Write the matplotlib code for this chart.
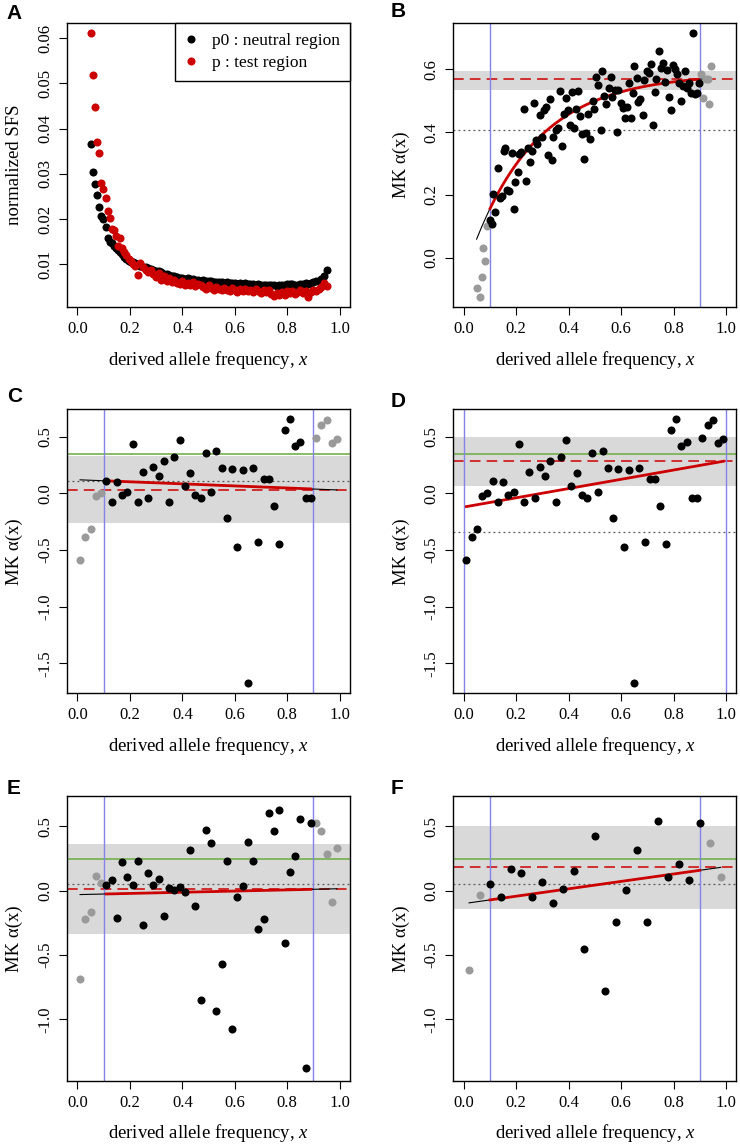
import numpy as np
import matplotlib
matplotlib.use("Agg")
import matplotlib.pyplot as plt

plt.rcParams['font.family'] = ['Liberation Serif', 'DejaVu Serif']
plt.rcParams['mathtext.fontset'] = 'custom'
plt.rcParams['mathtext.rm'] = 'Liberation Serif'
plt.rcParams['mathtext.it'] = 'Liberation Serif:italic'
plt.rcParams['axes.unicode_minus'] = False

# ---- panel A : normalized SFS ----
freq_A = [0.052, 0.060, 0.068, 0.076, 0.084, 0.091, 0.099, 0.107, 0.115, 0.123,
          0.131, 0.139, 0.147, 0.155, 0.163, 0.171, 0.179, 0.187, 0.195, 0.203,
          0.211,
          0.22, 0.23, 0.24, 0.25, 0.26, 0.27, 0.28, 0.29, 0.30, 0.31,
          0.32, 0.33, 0.34, 0.35, 0.36, 0.37, 0.38, 0.39, 0.40, 0.41,
          0.42, 0.43, 0.44, 0.45, 0.46, 0.47, 0.48, 0.49, 0.50, 0.51,
          0.52, 0.53, 0.54, 0.55, 0.56, 0.57, 0.58, 0.59, 0.60, 0.61,
          0.62, 0.63, 0.64, 0.65, 0.66, 0.67, 0.68, 0.69, 0.70, 0.71,
          0.72, 0.73, 0.74, 0.75, 0.76, 0.77, 0.78, 0.79, 0.80, 0.81,
          0.82, 0.83, 0.84, 0.85, 0.86, 0.87, 0.88, 0.89, 0.90, 0.91,
          0.92, 0.93, 0.94, 0.95]
sfs_neutral = [0.0366, 0.0304, 0.0278, 0.0253, 0.0226, 0.0206, 0.0199, 0.0182, 0.0157, 0.0150,
               0.0146, 0.0141, 0.0135, 0.0131, 0.0126, 0.0122, 0.0116, 0.0112, 0.0108, 0.0106,
               0.0104,
               0.0102, 0.0099, 0.0097, 0.0095, 0.0094, 0.0092, 0.0090, 0.0088, 0.0085, 0.0084,
               0.0082, 0.0079, 0.0078, 0.0077, 0.0075, 0.0074, 0.0072, 0.0070, 0.0069, 0.0068,
               0.0070, 0.0067, 0.0068, 0.0066, 0.0065, 0.0064, 0.0065, 0.0063, 0.0062, 0.0063,
               0.0061, 0.0061, 0.0060, 0.0061, 0.0059, 0.0060, 0.0058, 0.0059, 0.0058, 0.0057,
               0.0058, 0.0057, 0.0058, 0.0056, 0.0057, 0.0056, 0.0055, 0.0057, 0.0055, 0.0054,
               0.0055, 0.0054, 0.0053, 0.0054, 0.0052, 0.0054, 0.0055, 0.0054, 0.0056, 0.0057,
               0.0056, 0.0054, 0.0055, 0.0056, 0.0057, 0.0058, 0.0057, 0.0059, 0.0060, 0.0062,
               0.0064, 0.0068, 0.0075, 0.0087]
sfs_test = [0.0611, 0.0518, 0.0447, 0.0371, 0.0346, 0.0279, 0.0267, 0.0247, 0.0217, 0.0203,
            0.0177, 0.0176, 0.0163, 0.0140, 0.0157, 0.0135, 0.0128, 0.0120, 0.0112, 0.0108,
            0.0100,
            0.0097, 0.0076, 0.0102, 0.0093, 0.0088, 0.0083, 0.0087, 0.0079, 0.0072, 0.0081,
            0.0066, 0.0074, 0.0062, 0.0069, 0.0060, 0.0066, 0.0058, 0.0056, 0.0062, 0.0055,
            0.0059, 0.0053, 0.0060, 0.0051, 0.0057, 0.0055, 0.0049, 0.0045, 0.0053, 0.0047,
            0.0043, 0.0050, 0.0046, 0.0042, 0.0048, 0.0044, 0.0040, 0.0047, 0.0043, 0.0039,
            0.0045, 0.0041, 0.0046, 0.0040, 0.0043, 0.0038, 0.0045, 0.0041, 0.0037, 0.0044,
            0.0039, 0.0042, 0.0034, 0.0030, 0.0036, 0.0031, 0.0038, 0.0033, 0.0040, 0.0036,
            0.0041, 0.0035, 0.0039, 0.0042, 0.0037, 0.0040, 0.0027, 0.0038, 0.0044, 0.0041,
            0.0046, 0.0049, 0.0058, 0.0051]

# ---- panel B : alpha(x), fine bins ----
freq_B = [0.049, 0.060, 0.068, 0.075, 0.082, 0.087, 0.100, 0.108, 0.113, 0.120,
          0.129, 0.138, 0.144, 0.153, 0.158, 0.166, 0.174, 0.184, 0.190, 0.196,
          0.205, 0.212, 0.218, 0.228, 0.237, 0.243, 0.252, 0.260, 0.266, 0.275,
          0.281, 0.290, 0.298, 0.307, 0.313, 0.321, 0.328, 0.336, 0.342, 0.351,
          0.359, 0.366, 0.374, 0.383, 0.389, 0.398, 0.406, 0.414, 0.421, 0.427,
          0.436, 0.444, 0.452, 0.460, 0.468, 0.475, 0.483, 0.491, 0.498, 0.506,
          0.513, 0.522, 0.529, 0.536, 0.544, 0.552, 0.560, 0.567, 0.575, 0.583,
          0.590, 0.598, 0.606, 0.613, 0.621, 0.629, 0.636, 0.644, 0.651, 0.659,
          0.665, 0.673, 0.683, 0.689, 0.697, 0.705, 0.714, 0.720, 0.729, 0.734,
          0.744, 0.751, 0.759, 0.767, 0.775, 0.782, 0.790, 0.797, 0.805, 0.812,
          0.820, 0.828, 0.835, 0.843, 0.850, 0.858, 0.866, 0.873, 0.881, 0.890,
          0.896, 0.906, 0.914, 0.924, 0.931, 0.937, 0.944]
alpha_B = [-0.098, -0.126, -0.062, 0.030, -0.012, 0.102, 0.120, 0.106, 0.202, 0.147,
           0.284, 0.191, 0.196, 0.341, 0.348, 0.216, 0.211, 0.332, 0.155, 0.242,
           0.273, 0.330, 0.338, 0.474, 0.243, 0.350, 0.306, 0.340, 0.492, 0.375,
           0.362, 0.454, 0.384, 0.470, 0.479, 0.327, 0.504, 0.311, 0.385, 0.407,
           0.412, 0.532, 0.356, 0.457, 0.508, 0.470, 0.424, 0.526, 0.412, 0.474,
           0.532, 0.451, 0.394, 0.314, 0.396, 0.458, 0.379, 0.500, 0.475, 0.574,
           0.550, 0.407, 0.593, 0.516, 0.490, 0.540, 0.574, 0.513, 0.534, 0.399,
           0.533, 0.492, 0.477, 0.444, 0.481, 0.555, 0.444, 0.524, 0.611, 0.571,
           0.497, 0.505, 0.453, 0.566, 0.595, 0.587, 0.617, 0.423, 0.526, 0.569,
           0.659, 0.605, 0.621, 0.561, 0.598, 0.513, 0.470, 0.612, 0.601, 0.585,
           0.557, 0.500, 0.547, 0.596, 0.539, 0.555, 0.524, 0.715, 0.520, 0.524,
           0.555, 0.585, 0.510, 0.569, 0.569, 0.490, 0.611]

# ---- panels C and D : same data, two cutoffs ----
freq_CD = [0.01, 0.03, 0.05, 0.07, 0.09, 0.11, 0.13, 0.15, 0.17, 0.19,
           0.21, 0.23, 0.25, 0.27, 0.29, 0.31, 0.33, 0.35, 0.37, 0.39,
           0.41, 0.43, 0.45, 0.47, 0.49, 0.51, 0.53, 0.55, 0.57, 0.59,
           0.61, 0.63, 0.65, 0.67, 0.69, 0.71, 0.73, 0.75, 0.77, 0.79,
           0.81, 0.83, 0.85, 0.87, 0.89, 0.91, 0.93, 0.95, 0.97, 0.99]
alpha_CD = [-0.591, -0.385, -0.315, -0.026, 0.003, 0.112, -0.074, 0.097, -0.018, 0.009,
            0.435, -0.074, 0.188, -0.041, 0.229, 0.150, 0.285, -0.074, 0.318, 0.471,
            0.062, 0.176, -0.015, -0.044, 0.359, 0.009, 0.376, 0.226, -0.215, 0.218,
            -0.474, 0.203, -1.674, 0.226, -0.432, 0.129, 0.129, -0.115, -0.444, 0.562,
            0.653, 0.418, 0.450, -0.038, -0.038, 0.488, 0.606, 0.650, 0.447, 0.476]

# ---- panel E ----
freq_E = freq_CD
alpha_E = [-0.682, -0.219, -0.162, 0.117, 0.060, 0.045, 0.081, -0.214, 0.221, 0.107,
           0.047, 0.231, -0.268, 0.138, 0.047, 0.089, -0.198, 0.019, 0.009, 0.032,
           -0.009, 0.314, -0.115, -0.847, 0.474, 0.368, -0.938, -0.573, 0.234, -1.077,
           -0.048, 0.040, 0.381, 0.231, -0.296, -0.216, 0.601, 0.464, 0.624, -0.405,
           0.148, 0.272, 0.554, -1.375, 0.528, 0.528, 0.464, 0.285, -0.090, 0.332]

# ---- panel F ----
freq_F = [0.02, 0.06, 0.10, 0.14, 0.18, 0.22, 0.26, 0.30, 0.34, 0.38,
          0.42, 0.46, 0.50, 0.54, 0.58, 0.62, 0.66, 0.70, 0.74, 0.78,
          0.82, 0.86, 0.90, 0.94, 0.98]
alpha_F = [-0.617, -0.033, 0.053, -0.048, 0.172, 0.135, -0.051, 0.068, -0.095, 0.016,
           0.156, -0.452, 0.422, -0.783, -0.245, 0.006, 0.316, -0.245, 0.544, 0.107,
           0.208, 0.084, 0.528, 0.373, 0.107]

# summary lines per panel (B, C, D, E, F)
ci_low = [0.534, -0.265, 0.065, -0.338, -0.141]
ci_high = [0.593, 0.332, 0.494, 0.360, 0.500]
alpha_true = [None, 0.345, 0.344, 0.247, 0.247]     # green line
alpha_asym = [0.569, 0.032, 0.285, 0.014, 0.182]     # red dashed
alpha_naive = [0.405, 0.109, -0.338, 0.050, 0.053]   # gray dotted
cutoffs = [(0.1, 0.9), (0.1, 0.9), (0.0, 1.0), (0.1, 0.9), (0.1, 0.9)]
fit_exp_B = [0.586, 0.641, 4.0]                       # a - b*exp(-c*x)
fit_lin = [None, (0.119, -0.091), (-0.122, 0.408), (-0.030, 0.046), (-0.0998, 0.2875)]

RED = '#cd0000'
LGRAY = '#9a9a9a'
BAND = '#d9d9d9'
BLUE = '#8383ea'
GREEN = '#74b04c'

fig = plt.figure(figsize=(7.4, 11.45), dpi=100)
lefts = [0.0905, 0.6126]
bottoms = [0.7319, 0.3945, 0.0562]
W, H = 0.3826, 0.2482


def style_axis(ax, yticks, ylabels, ylim, ylabel):
    ax.set_xlim(-0.04, 1.04)
    ax.set_ylim(*ylim)
    ax.set_xticks([0.0, 0.2, 0.4, 0.6, 0.8, 1.0])
    ax.set_xticklabels(['0.0', '0.2', '0.4', '0.6', '0.8', '1.0'])
    ax.set_yticks(yticks)
    ax.set_yticklabels(ylabels, rotation=90, va='center')
    ax.tick_params(direction='out', length=5.5, width=0.8, labelsize=12, pad=4.5)
    for s in ax.spines.values():
        s.set_linewidth(1.0)
    ax.set_xlabel('derived allele frequency, $x$', fontsize=13.5, labelpad=8.5)
    ax.set_ylabel(ylabel, fontsize=13.5, labelpad=10)


def alpha_panel(ax, k, x, y, fit_fn):
    x = np.array(x)
    y = np.array(y)
    lo, hi = cutoffs[k]
    ax.axhspan(ci_low[k], ci_high[k], color=BAND, lw=0, zorder=0)
    if alpha_true[k] is not None:
        ax.axhline(alpha_true[k], color=GREEN, lw=1.2, zorder=1)
    ax.axhline(alpha_asym[k], color=RED, lw=1.1, ls=(0, (7, 4)), zorder=1)
    ax.axhline(alpha_naive[k], color='#555555', lw=0.9, ls=(0, (1.5, 2.5)), zorder=1)
    ax.axvline(lo, color=BLUE, lw=1.0, zorder=1)
    ax.axvline(hi, color=BLUE, lw=1.0, zorder=1)
    inside = (x >= lo - 1e-9) & (x <= hi + 1e-9)
    xf = np.linspace(x.min(), x.max(), 200)
    ax.plot(xf, fit_fn(xf), color='black', lw=0.8, zorder=2)
    xi = np.linspace(x[inside].min(), x[inside].max(), 200)
    ax.plot(xi, fit_fn(xi), color=RED, lw=2.0, zorder=3)
    ax.plot(x[~inside], y[~inside], 'o', color=LGRAY, ms=5.8, mec='none', zorder=4)
    ax.plot(x[inside], y[inside], 'o', color='black', ms=5.8, mec='none', zorder=4)


def lin(p):
    return lambda t: p[0] + p[1] * t


# A
axA = fig.add_axes([lefts[0], bottoms[0], W, H])
axA.plot(freq_A, sfs_neutral, 'o', color='black', ms=5.8, mec='none', label='p0 : neutral region')
axA.plot(freq_A, sfs_test, 'o', color=RED, ms=5.8, mec='none', label='p : test region')
style_axis(axA, [0.01, 0.02, 0.03, 0.04, 0.05, 0.06],
           ['0.01', '0.02', '0.03', '0.04', '0.05', '0.06'], (0.00055, 0.0634), 'normalized SFS')
leg = axA.legend(loc='upper right', borderaxespad=0, fontsize=12.5, fancybox=False,
                 edgecolor='black', framealpha=1, handlelength=0.6, handletextpad=0.9,
                 borderpad=0.6, labelspacing=0.3)
leg.get_frame().set_linewidth(1.0)

# B
axB = fig.add_axes([lefts[1], bottoms[0], W, H])
a, b, c = fit_exp_B
alpha_panel(axB, 0, freq_B, alpha_B, lambda t: a - b * np.exp(-c * t))
style_axis(axB, [0.0, 0.2, 0.4, 0.6], ['0.0', '0.2', '0.4', '0.6'], (-0.157, 0.748), 'MK α(x)')

# C, D
ticks_CD = [-1.5, -1.0, -0.5, 0.0, 0.5]
labels_CD = ['-1.5', '-1.0', '-0.5', '0.0', '0.5']
axC = fig.add_axes([lefts[0], bottoms[1], W, H])
alpha_panel(axC, 1, freq_CD, alpha_CD, lin(fit_lin[1]))
style_axis(axC, ticks_CD, labels_CD, (-1.765, 0.742), 'MK α(x)')
axD = fig.add_axes([lefts[1], bottoms[1], W, H])
alpha_panel(axD, 2, freq_CD, alpha_CD, lin(fit_lin[2]))
style_axis(axD, ticks_CD, labels_CD, (-1.765, 0.742), 'MK α(x)')

# E, F
ticks_EF = [-1.0, -0.5, 0.0, 0.5]
labels_EF = ['-1.0', '-0.5', '0.0', '0.5']
axE = fig.add_axes([lefts[0], bottoms[2], W, H])
alpha_panel(axE, 3, freq_E, alpha_E, lin(fit_lin[3]))
style_axis(axE, ticks_EF, labels_EF, (-1.476, 0.733), 'MK α(x)')
axF = fig.add_axes([lefts[1], bottoms[2], W, H])
alpha_panel(axF, 4, freq_F, alpha_F, lin(fit_lin[4]))
style_axis(axF, ticks_EF, labels_EF, (-1.476, 0.733), 'MK α(x)')

# panel letters
for lab, x0, y0 in [('A', 0.009, 0.9886), ('B', 0.528, 0.9898), ('C', 0.009, 0.6536),
                    ('D', 0.528, 0.649), ('E', 0.009, 0.311), ('F', 0.528, 0.3115)]:
    fig.text(x0, y0, lab, fontsize=15, fontweight='bold', family='Liberation Sans',
             ha='left', va='center')

fig.savefig('out.png', dpi=100)
